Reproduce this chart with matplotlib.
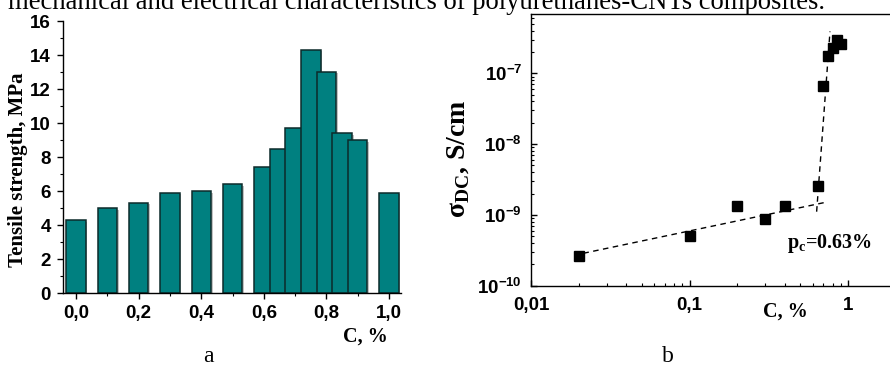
import numpy as np
import matplotlib
matplotlib.use("Agg")
import matplotlib.pyplot as plt
import matplotlib.patheffects as pe
from matplotlib.ticker import MultipleLocator, FuncFormatter, LogLocator, NullFormatter, FixedLocator

plt.rcParams['mathtext.fontset'] = 'custom'
plt.rcParams['mathtext.rm'] = 'Liberation Serif:bold'
plt.rcParams['mathtext.sf'] = 'Liberation Sans:bold'
plt.rcParams['mathtext.bf'] = 'Liberation Sans:bold'

# ---------------- data ----------------
conc_a = [0.0, 0.1, 0.2, 0.3, 0.4, 0.5, 0.6, 0.65, 0.7, 0.75, 0.8, 0.85, 0.9, 1.0]
strength = [4.3, 5.0, 5.3, 5.9, 6.0, 6.4, 7.4, 8.5, 9.7, 14.3, 13.0, 9.4, 9.0, 5.9]
xticks_a = [0.0, 0.2, 0.4, 0.6, 0.8, 1.0]
xticklabels_a = ["0,0", "0,2", "0,4", "0,6", "0,8", "1,0"]

conc_b = [0.02, 0.1, 0.2, 0.3, 0.4, 0.65, 0.7, 0.75, 0.8, 0.85, 0.9]
sigma = [2.6e-10, 5.0e-10, 1.35e-9, 8.8e-10, 1.33e-9, 2.56e-9, 6.7e-8, 1.75e-7, 2.3e-7, 3.0e-7, 2.6e-7]
fit_low_x = [0.0214, 0.726]
fit_low_y = [2.87e-10, 1.51e-9]
fit_high_x = [0.634, 0.77]
fit_high_y = [1.11e-9, 3.9e-7]
xticks_b = [0.01, 0.1, 1]
xticklabels_b = ["0,01", "0,1", "1"]

W, H = 890, 373
fig = plt.figure(figsize=(W / 100, H / 100), dpi=100)

def fx(px):
    return px / W

def fy(py):
    return 1 - py / H

SANS = 'Liberation Sans'
SERIF = 'Liberation Serif'

# header text (cut-off document line, as in the reference)
fig.text(fx(8), fy(9), "mechanical and electrical characteristics of polyurethanes-CNTs composites.",
         fontsize=19.2, family=SERIF, va='baseline', ha='left')

# ---------------- panel a ----------------
axa = fig.add_axes([fx(62.7), fy(293.3), fx(401 - 62.7), (293.3 - 21) / H])
bars = axa.bar(conc_a, strength, width=0.062, color='#008080', edgecolor='#0d2b2b', linewidth=1.1, zorder=2)
for b in bars:
    b.set_path_effects([pe.SimplePatchShadow(offset=(1.2, -1.0), shadow_rgbFace='#9a9a9a', alpha=0.6),
                        pe.Normal()])
axa.set_xlim(-0.0425, 1.038)
axa.set_ylim(0, 16)
for s in ['top', 'right']:
    axa.spines[s].set_visible(False)
for s in ['left', 'bottom']:
    axa.spines[s].set_linewidth(1.0)
    axa.spines[s].set_zorder(3)
axa.yaxis.set_major_locator(MultipleLocator(2))
axa.yaxis.set_minor_locator(MultipleLocator(1))
axa.set_xticks(xticks_a)
axa.set_xticklabels(xticklabels_a)
axa.xaxis.set_minor_locator(MultipleLocator(0.1))
axa.tick_params(which='major', direction='out', length=4, width=1.0, labelsize=13.5, pad=4.5)
axa.tick_params(which='minor', direction='out', length=2.5, width=0.8)
for lab in axa.get_xticklabels() + axa.get_yticklabels():
    lab.set_family(SANS)
    lab.set_fontweight('bold')

fig.text(fx(18), fy(169.5), "Tensile strength, MPa", rotation=90, ha='center', va='center',
         fontsize=15, family=SERIF, fontweight='bold')
fig.text(fx(365.5), fy(336.5), "C, %", ha='center', va='center', fontsize=14.5,
         family=SERIF, fontweight='bold')
fig.text(fx(208), fy(356), "a", ha='center', va='center', fontsize=17, family=SERIF)

# ---------------- panel b ----------------
left_b = 531.0
dec_x = 158.5
xmax_b = 2.0
width_px = (np.log10(xmax_b) + 2) * dec_x
bottom_b = 285.7
top_b = 14.0
dec_y = 70.8
ymax_log = -10 + (bottom_b - top_b) / dec_y
axb = fig.add_axes([fx(left_b), fy(bottom_b), width_px / W, (bottom_b - top_b) / H])
axb.set_xscale('log')
axb.set_yscale('log')
axb.set_xlim(0.01, xmax_b)
axb.set_ylim(1e-10, 10 ** ymax_log)
axb.plot(fit_low_x, fit_low_y, color='black', lw=1.0, ls=(0, (4, 3.2)), zorder=2)
axb.plot(fit_high_x, fit_high_y, color='black', lw=1.0, ls=(0, (4, 3.2)), zorder=2)
axb.plot(conc_b, sigma, ls='none', marker='s', markersize=7, color='black', zorder=3)
axb.spines['right'].set_visible(False)
for s in ['left', 'bottom', 'top']:
    axb.spines[s].set_linewidth(1.0)
axb.xaxis.set_major_locator(FixedLocator(xticks_b))
axb.xaxis.set_major_formatter(FuncFormatter(lambda v, p: xticklabels_b[xticks_b.index(v)] if v in xticks_b else ""))
axb.xaxis.set_minor_locator(LogLocator(base=10, subs=np.arange(2, 10), numticks=20))
axb.xaxis.set_minor_formatter(NullFormatter())
axb.yaxis.set_major_locator(LogLocator(base=10, numticks=20))
axb.yaxis.set_major_formatter(FuncFormatter(lambda v, p: r'$\mathsf{10^{%d}}$' % int(round(np.log10(v)))))
axb.yaxis.set_minor_locator(LogLocator(base=10, subs=np.arange(2, 10), numticks=20))
axb.yaxis.set_minor_formatter(NullFormatter())
axb.tick_params(which='major', direction='in', length=4, width=1.0, labelsize=13.5, top=False, right=False)
axb.tick_params(which='minor', direction='in', length=2.2, width=0.8, top=False, right=False)
axb.tick_params(axis='x', which='major', pad=8)
axb.tick_params(axis='y', which='major', pad=6.5)
for lab in axb.get_xticklabels():
    lab.set_family(SANS)
    lab.set_fontweight('bold')

fig.text(fx(465), fy(218), r'$\mathrm{σ}_{\mathrm{DC}}$, S/cm', rotation=90, rotation_mode='anchor',
         ha='left', va='baseline', fontsize=20, family=SERIF, fontweight='bold')

fig.text(fx(785), fy(312), "C, %", ha='center', va='center', fontsize=14.5,
         family=SERIF, fontweight='bold')
fig.text(fx(787), fy(248), r'p$_{\mathrm{c}}$=0.63%', ha='left', va='baseline', fontsize=14.5,
         family=SERIF, fontweight='bold')
fig.text(fx(668), fy(356), "b", ha='center', va='center', fontsize=17, family=SERIF)

fig.savefig("out.png", dpi=100)
